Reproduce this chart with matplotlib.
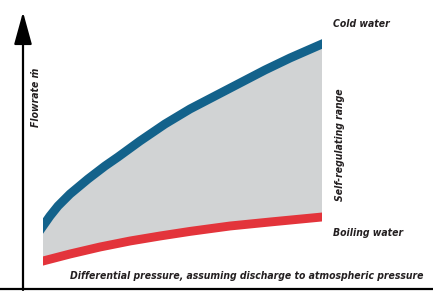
# Self-regulating range chart: flowrate vs differential pressure
import matplotlib
matplotlib.use("Agg")
import matplotlib.pyplot as plt
from matplotlib.patches import Rectangle

# data (arbitrary units)
cold_pressure = [1.0, 1.35, 1.75, 2.35, 3.25, 4.1, 4.75, 5.85, 7.1, 8.35, 9.6, 10.85, 12.1, 13.35, 14.95]
cold_flow = [3.15, 3.65, 4.15, 4.75, 5.5, 6.15, 6.6, 7.4, 8.25, 9.0, 9.65, 10.3, 10.95, 11.55, 12.25]

boil_pressure = [1.0, 2.35, 3.85, 5.35, 6.85, 8.35, 10.35, 12.35, 14.95]
boil_flow = [1.4, 1.75, 2.1, 2.4, 2.65, 2.88, 3.15, 3.35, 3.6]

# colours
blue = "#13628b"
red = "#e3343b"
grey = "#d1d3d4"

plt.rcParams['font.family'] = ['DejaVu Sans']

fig = plt.figure(figsize=(4.33, 2.91), dpi=100)
ax = fig.add_axes([0, 0, 1, 1])
ax.set_xlim(-1.15, 20.5)
ax.set_ylim(-0.1, 14.45)

# grey band between the two curves
ax.fill(cold_pressure + boil_pressure[::-1], cold_flow + boil_flow[::-1],
        color=grey, lw=0, zorder=1)

# lines are cut square at the ends of the band
x0, x1 = cold_pressure[0], cold_pressure[-1]
clip = Rectangle((x0, -1), x1 - x0, 20, transform=ax.transData)
for xs, ys, c in [(cold_pressure, cold_flow, blue), (boil_pressure, boil_flow, red)]:
    # extend a little past each end so the clip gives a vertical edge
    xs2 = [xs[0] - 0.3] + xs + [xs[-1] + 0.3]
    ys2 = [ys[0] - 0.3 * (ys[1] - ys[0]) / (xs[1] - xs[0])] + ys + \
          [ys[-1] + 0.3 * (ys[-1] - ys[-2]) / (xs[-1] - xs[-2])]
    ln, = ax.plot(xs2, ys2, color=c, lw=6.4, solid_capstyle="butt",
                  solid_joinstyle="round", zorder=2)
    ln.set_clip_path(clip)

# axes: arrow for y, plain line for x
for s in ["top", "right", "left"]:
    ax.spines[s].set_visible(False)
ax.spines["bottom"].set_position(("data", 0))
ax.spines["bottom"].set_linewidth(1.6)
ax.set_xticks([])
ax.set_yticks([])
ax.annotate("", xy=(0, 13.85), xytext=(0, -0.05),
            arrowprops=dict(arrowstyle="-|>,head_length=2.0,head_width=0.55",
                            lw=1.6, color="black", shrinkA=0, shrinkB=0,
                            mutation_scale=10))

txt = dict(fontsize=7.5, fontstyle="italic", fontweight="bold",
           fontstretch="condensed", color="#231f20")
ax.text(0.65, 9.6, "Flowrate ṁ", rotation=90, ha="center", va="center", **txt)
ax.text(15.5, 13.25, "Cold water", ha="left", va="center", **txt)
ax.text(15.5, 2.8, "Boiling water", ha="left", va="center", **txt)
ax.text(15.85, 7.2, "Self-regulating range", rotation=90, ha="center", va="center", **txt)
ax.text(11.2, 0.65, "Differential pressure, assuming discharge to atmospheric pressure",
        ha="center", va="center", **txt)

fig.savefig("out.png", dpi=100)
